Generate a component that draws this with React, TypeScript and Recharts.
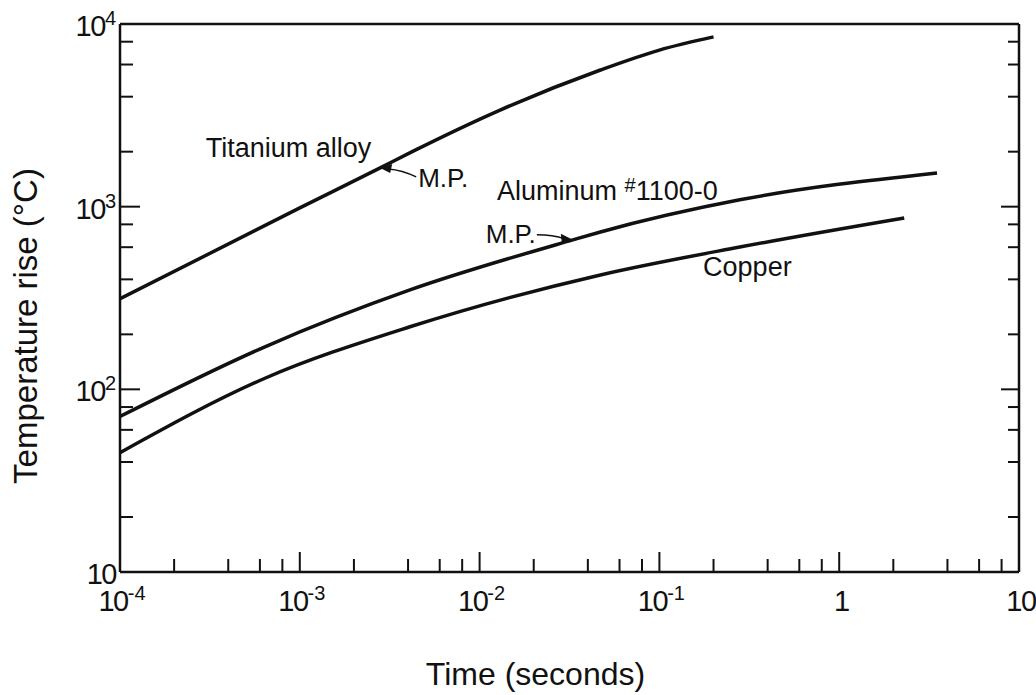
import React from "react";
import { LineChart, Line, XAxis, YAxis, ReferenceDot } from "recharts";

// Time (s) vs temperature rise (°C)
const TITANIUM_TIME = [1e-4, 1e-3, 2.8e-3, 4.3e-3, 0.013, 0.047, 0.1, 0.2];
const TITANIUM_TEMP = [313, 985, 1630, 2020, 3380, 5600, 7200, 8500];

const ALUMINUM_TIME = [1e-4, 6.4e-4, 4.1e-3, 0.033, 0.047, 0.28, 3.5];
const ALUMINUM_TEMP = [71, 171, 350, 658, 727, 1090, 1530];

const COPPER_TIME = [1e-4, 6.4e-4, 4.1e-3, 0.047, 0.28, 2.3];
const COPPER_TEMP = [45, 115, 220, 423, 601, 867];

const X_DECADES = [1e-4, 1e-3, 1e-2, 1e-1, 1, 10];
const Y_DECADES = [10, 100, 1000, 10000];
const MINOR_STEPS = [2, 4, 6, 8];

const FONT = "'Liberation Sans', Arial, sans-serif";
const INK = "#111";

const toPoints = (times: number[], temps: number[]) =>
  times.map((t, i) => ({ t, T: temps[i] }));

const withMinor = (decades: number[]) => {
  const out: number[] = [];
  decades.forEach((d, i) => {
    out.push(d);
    if (i < decades.length - 1)
      MINOR_STEPS.forEach((m) => out.push(Number((d * m).toPrecision(3))));
  });
  return out;
};

const X_TICKS = withMinor(X_DECADES);
const Y_TICKS = withMinor(Y_DECADES);

const isDecade = (v: number) => {
  const l = Math.log10(v);
  return Math.abs(l - Math.round(l)) < 1e-6;
};

function Power({ v, x, y, anchor }: { v: number; x: number; y: number; anchor: string }) {
  const exp = Math.round(Math.log10(v));
  const plain = exp === 0 ? "1" : exp === 1 ? "10" : null;
  return (
    <text x={x} y={y} textAnchor={anchor} fontSize={29} letterSpacing={-1.5} fill={INK} fontFamily={FONT}>
      {plain ?? (
        <>
          <tspan>10</tspan>
          <tspan dy={-11} fontSize={20} letterSpacing={0}>
            {exp}
          </tspan>
        </>
      )}
    </text>
  );
}

function BottomTick(props: any) {
  const { x, y, payload } = props;
  const major = isDecade(payload.value);
  return (
    <g>
      <line x1={x} x2={x} y1={y} y2={y - (major ? 20 : 13)} stroke={INK} strokeWidth={2} />
      {major && <Power v={payload.value} x={x + 2} y={y + 39} anchor="middle" />}
    </g>
  );
}

function TopTick(props: any) {
  const { x, y, payload } = props;
  const major = isDecade(payload.value);
  return <line x1={x} x2={x} y1={y} y2={y + (major ? 19 : 12)} stroke={INK} strokeWidth={2} />;
}

function LeftTick(props: any) {
  const { x, y, payload } = props;
  const major = isDecade(payload.value);
  return (
    <g>
      <line x1={x} x2={x + (major ? 20 : 13)} y1={y} y2={y} stroke={INK} strokeWidth={2} />
      {major && <Power v={payload.value} x={x - 4} y={y + 12} anchor="end" />}
    </g>
  );
}

function RightTick(props: any) {
  const { x, y, payload } = props;
  const major = isDecade(payload.value);
  return <line x1={x} x2={x - (major ? 18 : 11)} y1={y} y2={y} stroke={INK} strokeWidth={2} />;
}

const note = (text: React.ReactNode) => (p: any) => (
  <text x={p.cx} y={p.cy} fontSize={27} fill={INK} fontFamily={FONT}>
    {text}
  </text>
);

const titaniumMP = (p: any) => {
  const { cx, cy } = p;
  return (
    <g>
      <path d={`M${cx + 36},${cy + 9} Q${cx + 22},${cy + 2} ${cx + 8},${cy + 1}`} fill="none" stroke={INK} strokeWidth={1.5} />
      <polygon points={`${cx},${cy} ${cx + 12},${cy - 4} ${cx + 10},${cy + 5}`} fill={INK} />
      <text x={cx + 38} y={cy + 19} fontSize={26} fill={INK} fontFamily={FONT}>
        M.P.
      </text>
    </g>
  );
};

const aluminumMP = (p: any) => {
  const { cx, cy } = p;
  return (
    <g>
      <path d={`M${cx - 36},${cy - 5} Q${cx - 20},${cy - 5} ${cx - 8},${cy - 1}`} fill="none" stroke={INK} strokeWidth={1.5} />
      <polygon points={`${cx},${cy} ${cx - 12},${cy - 6} ${cx - 11},${cy + 3}`} fill={INK} />
      <text x={cx - 37} y={cy + 3} textAnchor="end" fontSize={26} fill={INK} fontFamily={FONT}>
        M.P.
      </text>
    </g>
  );
};

const axisStyle = { stroke: INK, strokeWidth: 2.5 };

export default function App() {
  // pinned to the viewport so the full 1036x695 frame is used without scrollbars
  return (
    <div style={{ position: "fixed", left: 0, top: 0, fontFamily: FONT, background: "#fff" }}>
      <LineChart
        width={1036}
        height={695}
        margin={{ top: 23, right: 16, bottom: 122, left: 119 }}
      >
        <XAxis
          dataKey="t"
          type="number"
          scale="log"
          domain={[1e-4, 10]}
          allowDataOverflow
          ticks={X_TICKS}
          interval={0}
          height={1}
          tickSize={0}
          tickMargin={0}
          tickLine={false}
          axisLine={axisStyle}
          tick={<BottomTick />}
          label={{
            content: (lp: any) => {
              const vb = lp.viewBox;
              return (
                <text x={vb.x + vb.width / 2 - 34} y={vb.y + 113} textAnchor="middle" fontSize={32} fill={INK} fontFamily={FONT}>
                  Time (seconds)
                </text>
              );
            },
          }}
        />
        <XAxis
          xAxisId="top"
          orientation="top"
          type="number"
          scale="log"
          domain={[1e-4, 10]}
          allowDataOverflow
          ticks={X_TICKS}
          interval={0}
          height={1}
          tickSize={0}
          tickMargin={0}
          tickLine={false}
          axisLine={axisStyle}
          tick={<TopTick />}
        />
        <YAxis
          type="number"
          scale="log"
          domain={[10, 10000]}
          allowDataOverflow
          ticks={Y_TICKS}
          interval={0}
          width={1}
          tickSize={0}
          tickMargin={0}
          tickLine={false}
          axisLine={axisStyle}
          tick={<LeftTick />}
          label={{
            content: (lp: any) => {
              const vb = lp.viewBox;
              const cx = vb.x - 82;
              const cy = vb.y + vb.height / 2 + 28;
              return (
                <text x={cx} y={cy} transform={`rotate(-90 ${cx} ${cy})`} textAnchor="middle" fontSize={33} fill={INK} fontFamily={FONT}>
                  Temperature rise (°C)
                </text>
              );
            },
          }}
        />
        <YAxis
          yAxisId="right"
          orientation="right"
          type="number"
          scale="log"
          domain={[10, 10000]}
          allowDataOverflow
          ticks={Y_TICKS}
          interval={0}
          width={1}
          tickSize={0}
          tickMargin={0}
          tickLine={false}
          axisLine={axisStyle}
          tick={<RightTick />}
        />
        <Line data={toPoints(TITANIUM_TIME, TITANIUM_TEMP)} dataKey="T" type="monotone" stroke={INK} strokeWidth={3.5} dot={false} isAnimationActive={false} />
        <Line data={toPoints(ALUMINUM_TIME, ALUMINUM_TEMP)} dataKey="T" type="monotone" stroke={INK} strokeWidth={3.5} dot={false} isAnimationActive={false} />
        <Line data={toPoints(COPPER_TIME, COPPER_TEMP)} dataKey="T" type="monotone" stroke={INK} strokeWidth={3.5} dot={false} isAnimationActive={false} />
        <ReferenceDot x={3e-4} y={1870} r={0} shape={note("Titanium alloy")} />
        <ReferenceDot x={2.8e-3} y={1630} r={0} shape={titaniumMP} />
        <ReferenceDot
          x={0.0125}
          y={1089}
          r={0}
          shape={note(
            <>
              <tspan>Aluminum </tspan>
              <tspan dy={-8} fontSize={20}>#</tspan>
              <tspan dy={8}>1100-0</tspan>
            </>
          )}
        />
        <ReferenceDot x={0.033} y={658} r={0} shape={aluminumMP} />
        <ReferenceDot x={0.175} y={418} r={0} shape={note("Copper")} />
      </LineChart>
    </div>
  );
}
